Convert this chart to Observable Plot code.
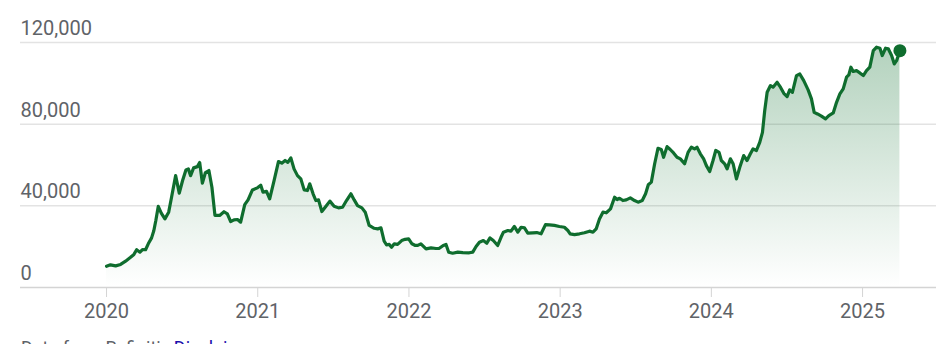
<!DOCTYPE html>
<html>
<head>
<meta charset="utf-8">
<script src="https://cdn.jsdelivr.net/npm/d3@7"></script>
<script src="https://cdn.jsdelivr.net/npm/@observablehq/plot@0.6"></script>
<style>
  html, body { margin: 0; padding: 0; background: #fff; }
  #chart svg { display: block; }
  .caption { font-family: Roboto, sans-serif; font-size: 18px; line-height: 20px; color: #5f6368; padding-left: 21px; margin-top: 4px; white-space: nowrap; }
  .caption a { color: #1a0dab; text-decoration: none; }
</style>
</head>
<body>
<div id="chart"></div>
<div class="caption">Data from Refinitiv <a>Disclaimer</a></div>
<script>
// Time positions (decimal years) and values, per year
const t2020 = [2020.000, 2020.026, 2020.060, 2020.093, 2020.126, 2020.159, 2020.181, 2020.199, 2020.221, 2020.238, 2020.258, 2020.276, 2020.298, 2020.313, 2020.326, 2020.342, 2020.362, 2020.386, 2020.411, 2020.430, 2020.457, 2020.481, 2020.503, 2020.525, 2020.541, 2020.556, 2020.576, 2020.601, 2020.616, 2020.634, 2020.654, 2020.677, 2020.697, 2020.717, 2020.748, 2020.777, 2020.799, 2020.821, 2020.843, 2020.866, 2020.887, 2020.914, 2020.936, 2020.965, 2020.998];
const v2020 = [10400, 11100, 10600, 11300, 12900, 14800, 16200, 18500, 17300, 18600, 18500, 21400, 24300, 27900, 32800, 39700, 36400, 33600, 36900, 44200, 54800, 46200, 52400, 57600, 58100, 54800, 58600, 59200, 61200, 51100, 56300, 57300, 49100, 35300, 35300, 37100, 36100, 32300, 33100, 33300, 32000, 40600, 42900, 47800, 48800];

const t2021 = [2021.020, 2021.035, 2021.058, 2021.079, 2021.108, 2021.137, 2021.159, 2021.181, 2021.199, 2021.219, 2021.240, 2021.263, 2021.285, 2021.307, 2021.329, 2021.344, 2021.366, 2021.384, 2021.402, 2021.424, 2021.450, 2021.477, 2021.505, 2021.534, 2021.561, 2021.587, 2021.616, 2021.638, 2021.660, 2021.689, 2021.711, 2021.737, 2021.770, 2021.793, 2021.815, 2021.836, 2021.852, 2021.870, 2021.885, 2021.903, 2021.925, 2021.952, 2021.975, 2021.998];
const v2021 = [50100, 46700, 47100, 43400, 52400, 61700, 60900, 62200, 61300, 63500, 58100, 54800, 53200, 47800, 47500, 50800, 45900, 42600, 42900, 37200, 39700, 42300, 39800, 39000, 39300, 42600, 45900, 42900, 40100, 39000, 36900, 30400, 29000, 28700, 29200, 22700, 20900, 21100, 19700, 21400, 21100, 23000, 23600, 23800];

const t2022 = [2022.020, 2022.042, 2022.058, 2022.079, 2022.113, 2022.146, 2022.179, 2022.201, 2022.227, 2022.245, 2022.263, 2022.289, 2022.323, 2022.356, 2022.399, 2022.422, 2022.444, 2022.466, 2022.492, 2022.515, 2022.536, 2022.558, 2022.587, 2022.609, 2022.625, 2022.654, 2022.675, 2022.697, 2022.720, 2022.742, 2022.764, 2022.786, 2022.819, 2022.845, 2022.874, 2022.903, 2022.929, 2022.962, 2022.995];
const v2022 = [21400, 20600, 20600, 21400, 18900, 19400, 19100, 19200, 20600, 21100, 17300, 16800, 17300, 17100, 17000, 17300, 20100, 22200, 23000, 21700, 24300, 23000, 20600, 24600, 27100, 27900, 27600, 29900, 27100, 29500, 29200, 26600, 26800, 26900, 26300, 30800, 30700, 30400, 29900];

const t2023 = [2023.028, 2023.051, 2023.066, 2023.095, 2023.128, 2023.161, 2023.194, 2023.217, 2023.238, 2023.260, 2023.283, 2023.305, 2023.333, 2023.360, 2023.377, 2023.393, 2023.415, 2023.437, 2023.464, 2023.492, 2023.515, 2023.543, 2023.565, 2023.583, 2023.603, 2023.625, 2023.647, 2023.669, 2023.684, 2023.707, 2023.728, 2023.750, 2023.773, 2023.795, 2023.823, 2023.846, 2023.868, 2023.889, 2023.905, 2023.927, 2023.949, 2023.967, 2023.989];
const v2023 = [29500, 27900, 26300, 25900, 26300, 26800, 27600, 27100, 28700, 33600, 36900, 36600, 38500, 44200, 43100, 43700, 42600, 42900, 43900, 42600, 41800, 42600, 45900, 50300, 51600, 60600, 68200, 67600, 63800, 69000, 67600, 65900, 63800, 63000, 60600, 66200, 68700, 67900, 68700, 65500, 63000, 59700, 56800];

const t2024 = [2024.011, 2024.029, 2024.051, 2024.066, 2024.088, 2024.104, 2024.126, 2024.144, 2024.166, 2024.188, 2024.214, 2024.236, 2024.258, 2024.276, 2024.298, 2024.320, 2024.338, 2024.353, 2024.369, 2024.391, 2024.408, 2024.435, 2024.457, 2024.479, 2024.501, 2024.518, 2024.536, 2024.563, 2024.585, 2024.611, 2024.640, 2024.662, 2024.680, 2024.702, 2024.728, 2024.755, 2024.777, 2024.806, 2024.828, 2024.850, 2024.872, 2024.894, 2024.909, 2024.923, 2024.938, 2024.960, 2024.982];
const v2024 = [62200, 67100, 66200, 62200, 60600, 58100, 63000, 60600, 53200, 58900, 64600, 62200, 65500, 67900, 67100, 71100, 76000, 86700, 95600, 98900, 98100, 100500, 98100, 95100, 93500, 96800, 95600, 103800, 104600, 101300, 96800, 92400, 85800, 85000, 83900, 82600, 84200, 85500, 90700, 94800, 97300, 103000, 104100, 107900, 105800, 106200, 105100];

const t2025 = [2025.005, 2025.026, 2025.048, 2025.071, 2025.093, 2025.115, 2025.130, 2025.152, 2025.170, 2025.192, 2025.210, 2025.225, 2025.247];
const v2025 = [103800, 106200, 107900, 116000, 117700, 117200, 113600, 117200, 116900, 113600, 109500, 111100, 116000];

const xTicks = [2020, 2021, 2022, 2023, 2024, 2025];
const yTicks = [0, 40000, 80000, 120000];

const tAll = [].concat(t2020, t2021, t2022, t2023, t2024, t2025);
const vAll = [].concat(v2020, v2021, v2022, v2023, v2024, v2025);
const data = tAll.map((t, i) => ({t, v: vAll[i]}));
const last = [data[data.length - 1]];

const green = "#0f6d2e";
const xDomain = [2019.431, 2025.489];

const gradient = () => {
  const defs = d3.create("svg:defs");
  const lg = defs.append("linearGradient").attr("id", "areaGrad").attr("x1", 0).attr("y1", 0).attr("x2", 0).attr("y2", 1);
  lg.append("stop").attr("offset", "0%").attr("stop-color", "#137333").attr("stop-opacity", 0.32);
  lg.append("stop").attr("offset", "100%").attr("stop-color", "#137333").attr("stop-opacity", 0.0);
  return defs.node();
};

const chart = Plot.plot({
  width: 936,
  height: 334,
  marginLeft: 20,
  marginRight: 0,
  marginTop: 42,
  marginBottom: 47,
  style: {fontFamily: "Roboto, sans-serif", fontSize: "20px", color: "#5f6368", background: "#fff"},
  x: {domain: xDomain, label: null},
  y: {domain: [0, 120000], axis: null},
  marks: [
    gradient,
    Plot.ruleY(yTicks.filter(d => d > 0), {stroke: "#e3e3e3", strokeWidth: 1.5}),
    Plot.areaY(data, {x: "t", y: "v", fill: "url(#areaGrad)"}),
    Plot.ruleY([0], {stroke: "#d4d4d4", strokeWidth: 1.5}),
    Plot.lineY(data, {x: "t", y: "v", stroke: green, strokeWidth: 3.2, strokeLinejoin: "round"}),
    Plot.dot(last, {x: "t", y: "v", r: 6.5, fill: green}),
    Plot.axisX({ticks: xTicks, tickFormat: d => String(d), tickSize: 10, tickPadding: 6, stroke: "#d4d4d4", fill: "#5f6368", fontSize: 20, label: null}),
    Plot.text(yTicks, {x: xDomain[0], y: d => d, text: d => d.toLocaleString("en-US"), textAnchor: "start", dy: -14, fill: "#5f6368", fontSize: 20})
  ]
});
document.getElementById("chart").appendChild(chart);
</script>
</body>
</html>
